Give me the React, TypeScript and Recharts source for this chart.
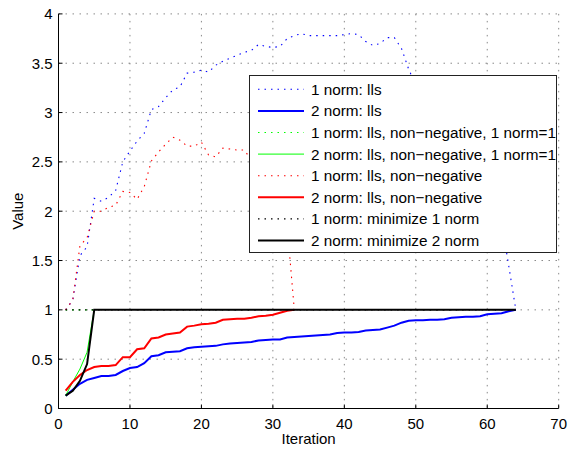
import { LineChart, Line, XAxis, YAxis, CartesianGrid, Legend, Label } from 'recharts'

const FONT = '"Liberation Sans", Arial, Helvetica, sans-serif'

const xTicks = [0, 10, 20, 30, 40, 50, 60, 70]
const yTicks = [0, 0.5, 1, 1.5, 2, 2.5, 3, 3.5, 4]

// value per iteration, starting at iteration 1
const llsNorm1 = [
  1.0, 1.1, 1.55, 1.64, 2.13, 2.1, 2.14, 2.21, 2.5, 2.61,
  2.71, 2.79, 3.03, 3.06, 3.15, 3.23, 3.26, 3.4, 3.41, 3.43,
  3.41, 3.48, 3.52, 3.55, 3.58, 3.61, 3.63, 3.69, 3.67, 3.66,
  3.67, 3.75, 3.78, 3.8, 3.78, 3.78, 3.78, 3.78, 3.78, 3.79,
  3.8, 3.79, 3.72, 3.68, 3.7, 3.76, 3.76, 3.65, 3.44, 3.28,
  3.2, 3.1, 3.0, 2.9, 2.8, 2.7, 2.6, 2.5, 2.4, 2.3,
  2.15, 1.9, 1.45, 1.0,
]
const llsNorm2 = [
  0.13, 0.19, 0.25, 0.29, 0.31, 0.33, 0.33, 0.34, 0.38, 0.41,
  0.42, 0.46, 0.53, 0.54, 0.57, 0.575, 0.58, 0.61, 0.62, 0.625,
  0.63, 0.635, 0.65, 0.66, 0.665, 0.67, 0.675, 0.69, 0.695, 0.7,
  0.7, 0.72, 0.725, 0.73, 0.735, 0.74, 0.745, 0.75, 0.765, 0.77,
  0.77, 0.775, 0.79, 0.795, 0.8, 0.82, 0.84, 0.87, 0.89, 0.895,
  0.895, 0.9, 0.9, 0.905, 0.92, 0.925, 0.93, 0.93, 0.935, 0.955,
  0.96, 0.965, 0.985, 1.0,
]
const unitNorm1 = [1.0, 1.0, 1.0, 1.0, 1.0]
const unitNorm2 = [0.13, 0.27, 0.4, 0.57, 1.0]
const nonNegNorm1 = [
  1.0, 1.1, 1.65, 1.73, 2.0, 2.0, 2.04, 2.06, 2.2, 2.19,
  2.12, 2.25, 2.51, 2.6, 2.68, 2.75, 2.72, 2.66, 2.66, 2.7,
  2.57, 2.55, 2.64, 2.63, 2.62, 2.62, 2.52, 2.55, 2.45, 2.35,
  2.2, 1.85, 1.0,
]
const nonNegNorm2 = [
  0.18, 0.27, 0.34, 0.39, 0.42, 0.43, 0.43, 0.44, 0.52, 0.52,
  0.6, 0.61, 0.71, 0.72, 0.75, 0.76, 0.77, 0.83, 0.84, 0.855,
  0.86, 0.87, 0.9, 0.905, 0.91, 0.91, 0.92, 0.935, 0.94, 0.95,
  0.97, 0.99, 1.0,
]
const minNorm1 = [
  1, 1, 1, 1, 1, 1, 1, 1, 1, 1, 1, 1, 1, 1, 1, 1,
  1, 1, 1, 1, 1, 1, 1, 1, 1, 1, 1, 1, 1, 1, 1, 1,
  1, 1, 1, 1, 1, 1, 1, 1, 1, 1, 1, 1, 1, 1, 1, 1,
  1, 1, 1, 1, 1, 1, 1, 1, 1, 1, 1, 1, 1, 1, 1, 1,
]
const minNorm2 = [
  0.13, 0.18, 0.28, 0.45, 1, 1, 1, 1, 1, 1, 1, 1, 1, 1, 1, 1,
  1, 1, 1, 1, 1, 1, 1, 1, 1, 1, 1, 1, 1, 1, 1, 1,
  1, 1, 1, 1, 1, 1, 1, 1, 1, 1, 1, 1, 1, 1, 1, 1,
  1, 1, 1, 1, 1, 1, 1, 1, 1, 1, 1, 1, 1, 1, 1, 1,
]

const DOTS = '1.5 5'

const series = [
  { key: 'llsNorm1', name: '1 norm: lls', values: llsNorm1, color: '#0000ff', dotted: true, width: 1.1 },
  { key: 'llsNorm2', name: '2 norm: lls', values: llsNorm2, color: '#0000ff', dotted: false, width: 2 },
  { key: 'unitNorm1', name: '1 norm: lls, non\u2212negative, 1 norm=1', values: unitNorm1, color: '#00ff00', dotted: true, width: 1.1 },
  { key: 'unitNorm2', name: '2 norm: lls, non\u2212negative, 1 norm=1', values: unitNorm2, color: '#00ff00', dotted: false, width: 1 },
  { key: 'nonNegNorm1', name: '1 norm: lls, non\u2212negative', values: nonNegNorm1, color: '#ff0000', dotted: true, width: 1.1 },
  { key: 'nonNegNorm2', name: '2 norm: lls, non\u2212negative', values: nonNegNorm2, color: '#ff0000', dotted: false, width: 2 },
  { key: 'minNorm1', name: '1 norm: minimize 1 norm', values: minNorm1, color: '#000000', dotted: true, width: 1.1 },
  { key: 'minNorm2', name: '2 norm: minimize 2 norm', values: minNorm2, color: '#000000', dotted: false, width: 2 },
]

const rowCount = Math.max(...series.map((s) => s.values.length))
const rows = Array.from({ length: rowCount }, (_, i) => {
  const row: Record<string, number> = { iteration: i + 1 }
  for (const s of series) {
    if (i < s.values.length) row[s.key] = s.values[i]
  }
  return row
})

function LegendBox() {
  return (
    <svg width={306} height={176} style={{ display: 'block' }}>
      {series.map((s, i) => {
        const cy = 13.3 + i * 21.6
        return (
          <g key={s.key}>
            <line
              x1={8}
              x2={54}
              y1={cy}
              y2={cy}
              stroke={s.color}
              strokeWidth={s.width}
              strokeDasharray={s.dotted ? DOTS : undefined}
            />
            <text x={61} y={cy} dy="0.36em" fontSize={15.3} fontFamily={FONT} fill="#000">
              {s.name}
            </text>
          </g>
        )
      })}
    </svg>
  )
}

function ValueLabel(props: any) {
  const { viewBox } = props
  const cx = 18
  const cy = viewBox.y + viewBox.height / 2
  return (
    <text
      x={cx}
      y={cy}
      dy="0.36em"
      textAnchor="middle"
      transform={`rotate(-90 ${cx} ${cy})`}
      fontSize={15}
      fontFamily={FONT}
      fill="#000"
    >
      Value
    </text>
  )
}

export default function App() {
  return (
    <div style={{ position: 'absolute', left: 0, top: 0, width: 570, height: 449, background: '#fff' }}>
      <LineChart width={570} height={449} data={rows} margin={{ top: 13.9, right: 11.3, bottom: 0, left: 0 }}>
        <CartesianGrid stroke="#8a8a8a" strokeDasharray="1.5 5.5" horizontalValues={yTicks} verticalValues={xTicks} />
        <XAxis
          dataKey="iteration"
          type="number"
          domain={[0, 70]}
          ticks={xTicks}
          interval={0}
          height={40.5}
          tickSize={-4}
          tickMargin={13.5}
          axisLine={{ stroke: '#000' }}
          tickLine={{ stroke: '#000' }}
          tick={{ fontSize: 15, fill: '#000', fontFamily: FONT }}
        >
          <Label value="Iteration" position="insideBottom" offset={5} fontSize={15} fontFamily={FONT} fill="#000" />
        </XAxis>
        <YAxis
          type="number"
          domain={[0, 4]}
          ticks={yTicks}
          interval={0}
          width={58.5}
          tickSize={-4}
          tickMargin={10}
          axisLine={{ stroke: '#000' }}
          tickLine={{ stroke: '#000' }}
          tick={{ fontSize: 15, fill: '#000', fontFamily: FONT }}
        >
          <Label content={ValueLabel} />
        </YAxis>
        {series.map((s) => (
          <Line
            key={s.key}
            dataKey={s.key}
            name={s.name}
            type="linear"
            stroke={s.color}
            strokeWidth={s.width}
            strokeDasharray={s.dotted ? DOTS : undefined}
            dot={false}
            activeDot={false}
            isAnimationActive={false}
          />
        ))}
        <Legend
          layout="vertical"
          align="center"
          verticalAlign="middle"
          content={LegendBox}
          wrapperStyle={{
            left: 249,
            top: 74.7,
            width: 308,
            height: 178,
            background: '#fff',
            border: '1px solid #222',
            boxSizing: 'border-box',
          }}
        />
      </LineChart>
    </div>
  )
}
